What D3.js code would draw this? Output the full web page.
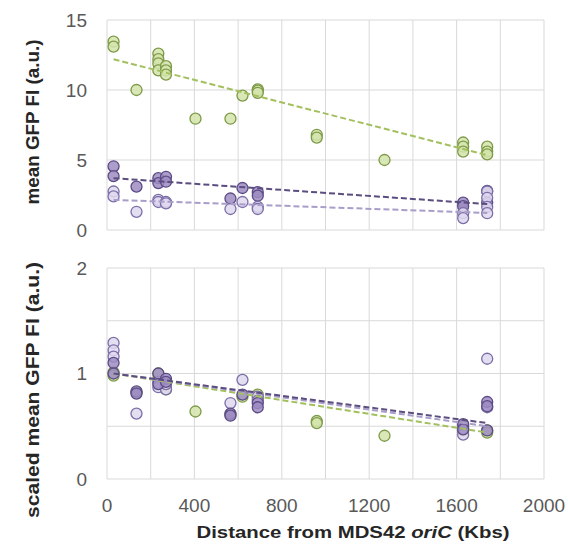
<!DOCTYPE html>
<html>
<head>
<meta charset="utf-8">
<script src="https://cdn.jsdelivr.net/npm/d3@7"></script>
<style>
  body { margin: 0; background: #fff; }
  svg { font-family: "Liberation Sans", Arial, sans-serif; }
</style>
</head>
<body>
<div id="chart"></div>
<script>
// values: [distance from oriC (Kbs), value]
const greenTop = [
    [30, 13.45], [30, 13.1], [135, 10.0],
    [235, 12.6], [235, 12.2], [235, 11.9], [235, 11.4],
    [270, 11.7], [270, 11.4], [270, 11.1],
    [405, 7.95], [565, 7.95], [620, 9.6],
    [690, 10.05], [690, 9.95], [690, 9.8],
    [960, 6.8], [960, 6.6], [1270, 5.0],
    [1630, 6.25], [1630, 5.95], [1630, 5.6],
    [1740, 5.95], [1740, 5.6], [1740, 5.4]
];
const darkTop = [
    [30, 4.55], [30, 3.85], [135, 3.1],
    [235, 3.7], [235, 3.35], [270, 3.8], [270, 3.45],
    [565, 2.25], [620, 3.0], [690, 2.7], [690, 2.45],
    [1630, 1.95], [1630, 1.7], [1740, 2.8], [1740, 1.95]
];
const lightTop = [
    [30, 2.75], [30, 2.4], [135, 1.3],
    [235, 2.15], [235, 2.0], [270, 2.0], [270, 1.9],
    [565, 1.5], [620, 2.0], [690, 1.65], [690, 1.5],
    [1630, 1.2], [1630, 0.85],
    [1740, 2.75], [1740, 2.3], [1740, 1.65], [1740, 1.2]
];

const darkBottom = [
    [30, 1.1], [30, 1.0], [135, 0.83], [135, 0.81],
    [235, 1.0], [235, 0.9], [270, 0.95], [270, 0.92],
    [565, 0.62], [565, 0.6], [620, 0.8], [690, 0.72], [690, 0.68],
    [1630, 0.52], [1630, 0.47], [1740, 0.73], [1740, 0.69], [1740, 0.46]
];
const lightBottom = [
    [30, 1.29], [30, 1.22], [30, 1.16], [135, 0.62],
    [235, 0.92], [235, 0.87], [270, 0.85], [270, 0.9],
    [565, 0.72], [620, 0.94], [690, 0.78], [690, 0.74],
    [1630, 0.48], [1630, 0.42], [1740, 1.14], [1740, 0.68]
];
const greenBottom = [
    [30, 1.01], [30, 0.98], [135, 0.82],
    [235, 0.95], [235, 1.0], [270, 0.88], [270, 0.85],
    [405, 0.64], [565, 0.61], [620, 0.78], [690, 0.8], [690, 0.76],
    [960, 0.55], [960, 0.53], [1270, 0.41],
    [1630, 0.5], [1630, 0.46], [1740, 0.46], [1740, 0.44]
];

// dashed trend lines, end points
const greenTrendTop = [[30, 12.2], [1740, 5.35]];
const darkTrendTop = [[30, 3.7], [1740, 1.85]];
const lightTrendTop = [[30, 2.15], [1740, 1.22]];
const greenTrendBottom = [[30, 1.0], [1740, 0.44]];
const darkTrendBottom = [[30, 1.0], [1740, 0.53]];
const lightTrendBottom = [[30, 1.0], [1740, 0.5]];

const xTicks = [0, 400, 800, 1200, 1600, 2000];
const xGrid = d3.range(0, 2001, 200);
const yTicksTop = [0, 5, 10, 15];
const yTicksBottom = [0, 1, 2];
const yGridBottom = [0, 0.5, 1, 1.5, 2];

const W = 568, H = 554;
const left = 107, right = 544;

const svg = d3.select("#chart").append("svg")
    .attr("width", W)
    .attr("height", H);

const x = d3.scaleLinear().domain([0, 2000]).range([left, right]);
const yTop = d3.scaleLinear().domain([0, 15]).range([230, 20]);
const yBot = d3.scaleLinear().domain([0, 2]).range([479, 268]);

const colors = {
    green: { fill: "#d3e4ac", stroke: "#7d9a48", trend: "#a3c05e" },
    dark: { fill: "#9d8cc2", stroke: "#5b4b86", trend: "#5c4d80" },
    light: { fill: "#dfd8ef", stroke: "#7c6ea8", trend: "#a99dca" }
};

function drawPanel(y, gridVals, tickVals, series, trends) {
    const g = svg.append("g");

    // grid
    g.selectAll(".hgrid")
        .data(gridVals)
        .join("line")
        .attr("x1", left).attr("x2", right)
        .attr("y1", d => y(d)).attr("y2", d => y(d))
        .attr("stroke", "#d9d9d9")
        .attr("stroke-width", 1);

    g.selectAll(".vgrid")
        .data(xGrid)
        .join("line")
        .attr("x1", d => x(d)).attr("x2", d => x(d))
        .attr("y1", y.range()[0]).attr("y2", y.range()[1])
        .attr("stroke", "#d9d9d9")
        .attr("stroke-width", 1);

    // y tick labels
    g.selectAll(".ylab")
        .data(tickVals)
        .join("text")
        .attr("x", 87)
        .attr("y", d => y(d))
        .attr("dy", "0.36em")
        .attr("text-anchor", "end")
        .style("font-size", "19px")
        .style("fill", "#595959")
        .text(d => d);

    // points
    series.forEach(s => {
        g.selectAll(null)
            .data(s.data)
            .join("circle")
            .attr("cx", d => x(d[0]))
            .attr("cy", d => y(d[1]))
            .attr("r", 5.5)
            .attr("fill", s.color.fill)
            .attr("fill-opacity", 0.85)
            .attr("stroke", s.color.stroke)
            .attr("stroke-width", 1.3);
    });

    // trend lines
    const line = d3.line().x(d => x(d[0])).y(d => y(d[1]));
    trends.forEach(t => {
        g.append("path")
            .datum(t.data)
            .attr("d", line)
            .attr("fill", "none")
            .attr("stroke", t.color.trend)
            .attr("stroke-width", 2)
            .attr("stroke-dasharray", "6,3");
    });
}

drawPanel(yTop, yTicksTop, yTicksTop,
    [{ data: darkTop, color: colors.dark },
     { data: lightTop, color: colors.light },
     { data: greenTop, color: colors.green }],
    [{ data: greenTrendTop, color: colors.green },
     { data: darkTrendTop, color: colors.dark },
     { data: lightTrendTop, color: colors.light }]);

drawPanel(yBot, yGridBottom, yTicksBottom,
    [{ data: greenBottom, color: colors.green },
     { data: lightBottom, color: colors.light },
     { data: darkBottom, color: colors.dark }],
    [{ data: greenTrendBottom, color: colors.green },
     { data: lightTrendBottom, color: colors.light },
     { data: darkTrendBottom, color: colors.dark }]);

// x tick labels
svg.selectAll(".xlab")
    .data(xTicks)
    .join("text")
    .attr("x", d => x(d))
    .attr("y", 512)
    .attr("text-anchor", "middle")
    .style("font-size", "19px")
    .style("fill", "#595959")
    .text(d => d);

// axis titles
svg.append("text")
    .attr("transform", "translate(39,122) rotate(-90)")
    .attr("text-anchor", "middle")
    .attr("textLength", 165)
    .attr("lengthAdjust", "spacingAndGlyphs")
    .style("font-size", "18px")
    .style("font-weight", "bold")
    .style("fill", "#262626")
    .text("mean GFP FI (a.u.)");

svg.append("text")
    .attr("transform", "translate(39,390) rotate(-90)")
    .attr("text-anchor", "middle")
    .attr("textLength", 256)
    .attr("lengthAdjust", "spacingAndGlyphs")
    .style("font-size", "18px")
    .style("font-weight", "bold")
    .style("fill", "#262626")
    .text("scaled mean GFP FI (a.u.)");

const xTitle = svg.append("text")
    .attr("x", 353)
    .attr("y", 538)
    .attr("text-anchor", "middle")
    .attr("textLength", 313)
    .attr("lengthAdjust", "spacingAndGlyphs")
    .style("font-size", "17px")
    .style("font-weight", "bold")
    .style("fill", "#262626");
xTitle.append("tspan").text("Distance from MDS42 ");
xTitle.append("tspan").style("font-style", "italic").text("oriC");
xTitle.append("tspan").text(" (Kbs)");
</script>
</body>
</html>
